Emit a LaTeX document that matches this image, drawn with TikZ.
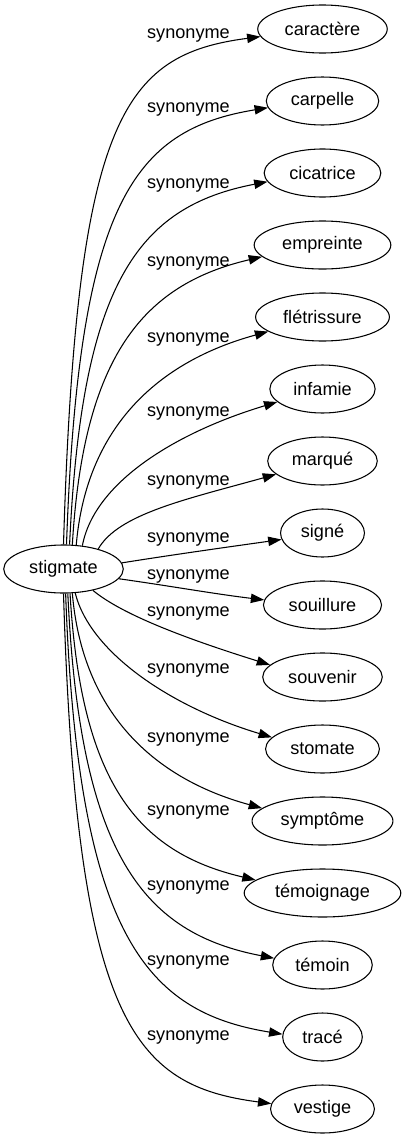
\documentclass[tikz,border=0pt]{standalone}
\usepackage{fontspec}
\setmainfont{Liberation Sans}
\usetikzlibrary{arrows.meta,shapes.geometric}

\begin{document}
\begin{tikzpicture}[x=0.75pt, y=-0.75pt,
  word/.style={draw, ellipse, line width=0.8pt, inner xsep=6pt, inner ysep=2pt,
    minimum height=36pt, font=\fontsize{13.6pt}{16pt}\selectfont},
  rel/.style={inner sep=0pt, font=\fontsize{13.6pt}{16pt}\selectfont},
  syn/.style={line width=0.8pt, -{Triangle[length=10pt, width=7pt]}}]
\useasboundingbox (0,0) rectangle (403,1139);

% Draw source word
\node[word] (stigmate) at (63.5,569) {stigmate};

% Draw synonyms, one column on the right
\node[word] (caractere) at (322.5,29) {caractère};
\node[word] (carpelle) at (322.5,101) {carpelle};
\node[word] (cicatrice) at (322.5,173) {cicatrice};
\node[word] (empreinte) at (322.5,245) {empreinte};
\node[word] (fletrissure) at (322.5,317) {flétrissure};
\node[word] (infamie) at (322.5,389) {infamie};
\node[word] (marque) at (322.5,461) {marqué};
\node[word] (signe) at (322.5,533) {signé};
\node[word] (souillure) at (322.5,605) {souillure};
\node[word] (souvenir) at (322.5,677) {souvenir};
\node[word] (stomate) at (322.5,749) {stomate};
\node[word] (symptome) at (322.5,821) {symptôme};
\node[word] (temoignage) at (322.5,893) {témoignage};
\node[word] (temoin) at (322.5,965) {témoin};
\node[word] (trace) at (322.5,1037) {tracé};
\node[word] (vestige) at (322.5,1109) {vestige};

% Draw edge labels
\node[rel] (s1) at (188.5,36) {synonyme};
\node[rel] (s2) at (188.5,110) {synonyme};
\node[rel] (s3) at (188.5,185) {synonyme};
\node[rel] (s4) at (188.5,263) {synonyme};
\node[rel] (s5) at (188.5,339) {synonyme};
\node[rel] (s6) at (188.5,413) {synonyme};
\node[rel] (s7) at (188.5,482) {synonyme};
\node[rel] (s8) at (188.5,539) {synonyme};
\node[rel] (s9) at (188.5,576) {synonyme};
\node[rel] (s10) at (188.5,613) {synonyme};
\node[rel] (s11) at (188.5,670) {synonyme};
\node[rel] (s12) at (188.5,739) {synonyme};
\node[rel] (s13) at (188.5,812) {synonyme};
\node[rel] (s14) at (188.5,887) {synonyme};
\node[rel] (s15) at (188.5,962) {synonyme};
\node[rel] (s16) at (188.5,1037) {synonyme};

% Upper edges (leave the top of stigmate)
\draw[syn] (stigmate.90) .. controls +(13,-426) and +(-138,18) .. (caractere.187);
\draw[syn] (stigmate.83) .. controls +(12,-341) and +(-135,22) .. (carpelle.187);
\draw[syn] (stigmate.76) .. controls +(12,-261) and +(-130,25) .. (cicatrice.189);
\draw[syn] (stigmate.70) .. controls +(11,-187) and +(-120,28) .. (empreinte.191);
\draw[syn] (stigmate.62) .. controls +(10,-118) and +(-110,30) .. (fletrissure.195);
\draw[syn] (stigmate.51) .. controls +(12,-64) and +(-100,30) .. (infamie.196);
\draw[syn] (stigmate.30) .. controls +(20,-35) and +(-90,25) .. (marque.196);
\draw[syn] (stigmate.6) .. controls +(50,-8) and +(-50,7) .. (signe.189);

% Lower edges (leave the bottom of stigmate)
\draw[syn] (stigmate.-10) .. controls +(50,7) and +(-50,-6) .. (souillure.175);
\draw[syn] (stigmate.-36) .. controls +(30,25) and +(-80,-25) .. (souvenir.167);
\draw[syn] (stigmate.-64) .. controls +(15,60) and +(-100,-30) .. (stomate.167);
\draw[syn] (stigmate.-70) .. controls +(10,118) and +(-110,-30) .. (symptome.168);
\draw[syn] (stigmate.-75) .. controls +(11,187) and +(-120,-28) .. (temoignage.169);
\draw[syn] (stigmate.-80) .. controls +(12,263) and +(-130,-25) .. (temoin.172);
\draw[syn] (stigmate.-85) .. controls +(12,344) and +(-135,-22) .. (trace.176);
\draw[syn] (stigmate.-90) .. controls +(13,429) and +(-138,-18) .. (vestige.174);
\end{tikzpicture}
\end{document}
